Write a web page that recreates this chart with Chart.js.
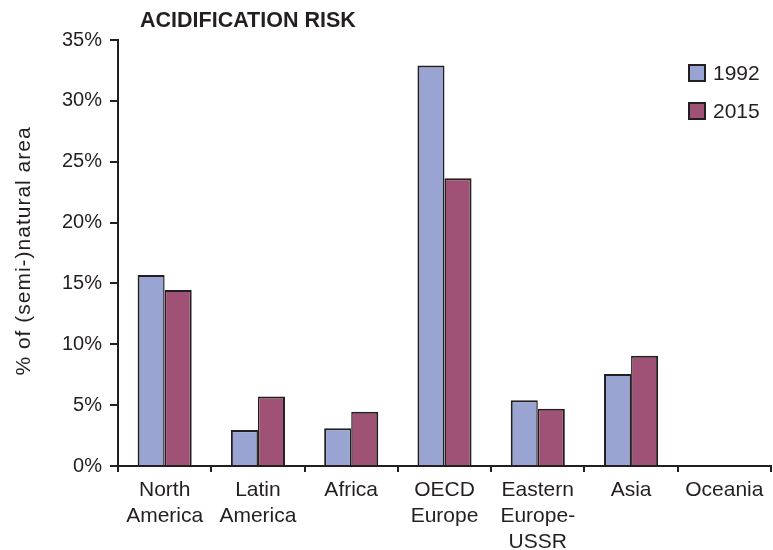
<!DOCTYPE html>
<html>
<head>
<meta charset="utf-8">
<title>Acidification risk</title>
<script src="https://cdn.jsdelivr.net/npm/chart.js@4/dist/chart.umd.min.js"></script>
<style>
  html, body { margin: 0; padding: 0; background: #ffffff; }
  #wrap { width: 773px; height: 550px; position: relative; }
</style>
</head>
<body>
<div id="wrap"><canvas id="chart" width="773" height="550"></canvas></div>
<script>
// Share of (semi-)natural area at acidification risk, by region
const regions = [
  ['North', 'America'],
  ['Latin', 'America'],
  'Africa',
  ['OECD', 'Europe'],
  ['Eastern', 'Europe-', 'USSR'],
  'Asia',
  'Oceania'
];
const values1992 = [15.7, 2.95, 3.1, 32.9, 5.4, 7.55, 0];
const values2015 = [14.45, 5.7, 4.45, 23.65, 4.7, 9.05, 0];
const seriesLabels = ['1992', '2015'];
const yTicks = [0, 5, 10, 15, 20, 25, 30, 35];

const chartTitle = 'ACIDIFICATION RISK';
const yAxisTitle = '% of (semi-)natural area';

const INK = '#231f20';
const FONT = '"Liberation Sans", Arial, Helvetica, sans-serif';

// Title, rotated y-axis caption and the in-plot legend
const annotations = {
  id: 'annotations',
  afterDraw(chart) {
    const ctx = chart.ctx;
    ctx.save();
    ctx.fillStyle = INK;

    ctx.font = 'bold 21.5px ' + FONT;
    ctx.textAlign = 'left';
    ctx.textBaseline = 'alphabetic';
    ctx.fillText(chartTitle, 140, 27);

    ctx.save();
    ctx.translate(30, 251);
    ctx.rotate(-Math.PI / 2);
    ctx.font = '21px ' + FONT;
    ctx.letterSpacing = '1px';
    ctx.textAlign = 'center';
    ctx.fillText(yAxisTitle, 0, 0);
    ctx.restore();

    const boxTops = [64, 102];
    chart.data.datasets.forEach((ds, i) => {
      const y = boxTops[i];
      ctx.fillStyle = INK;
      ctx.fillRect(688, y, 18, 18);
      ctx.fillStyle = ds.backgroundColor;
      ctx.fillRect(690, y + 2, 14, 14);
      ctx.fillStyle = INK;
      ctx.font = '21px ' + FONT;
      ctx.textAlign = 'left';
      ctx.textBaseline = 'alphabetic';
      ctx.fillText(ds.label, 713, y + 15.5);
    });
    ctx.restore();
  }
};

new Chart(document.getElementById('chart'), {
  type: 'bar',
  data: {
    labels: regions,
    datasets: [
      {
        label: seriesLabels[0],
        data: values1992,
        backgroundColor: '#99a4d2',
        borderColor: INK,
        borderWidth: { top: 2, left: 2, right: 1.5, bottom: 0 },
        borderSkipped: 'start'
      },
      {
        label: seriesLabels[1],
        data: values2015,
        backgroundColor: '#a05276',
        borderColor: INK,
        borderWidth: { top: 2, left: 1.5, right: 2, bottom: 0 },
        borderSkipped: 'start'
      }
    ]
  },
  options: {
    responsive: false,
    animation: false,
    devicePixelRatio: 1,
    layout: { padding: { left: 0, right: 2, top: 40, bottom: 0 } },
    plugins: {
      legend: { display: false },
      title: { display: false },
      tooltip: { enabled: false }
    },
    datasets: {
      bar: { categoryPercentage: 0.58, barPercentage: 1.0 }
    },
    scales: {
      x: {
        afterFit(scale) { scale.height = 84; },
        border: { display: true, color: INK, width: 2 },
        grid: {
          offset: true,
          drawOnChartArea: false,
          drawTicks: true,
          tickLength: 6,
          color: INK,
          lineWidth: 2
        },
        ticks: {
          color: INK,
          padding: 5,
          maxRotation: 0,
          autoSkip: false,
          font: { family: FONT, size: 21, lineHeight: 1.24 }
        }
      },
      y: {
        min: yTicks[0],
        max: yTicks[yTicks.length - 1],
        afterFit(scale) { scale.width = 118; },
        afterBuildTicks(scale) { scale.ticks = yTicks.map(v => ({ value: v })); },
        border: { display: true, color: INK, width: 2 },
        grid: {
          drawOnChartArea: false,
          drawTicks: true,
          tickLength: 8,
          color: INK,
          lineWidth: 2
        },
        ticks: {
          color: INK,
          padding: 8,
          font: { family: FONT, size: 20 },
          callback: v => v + '%'
        }
      }
    }
  },
  plugins: [annotations]
});
</script>
</body>
</html>
